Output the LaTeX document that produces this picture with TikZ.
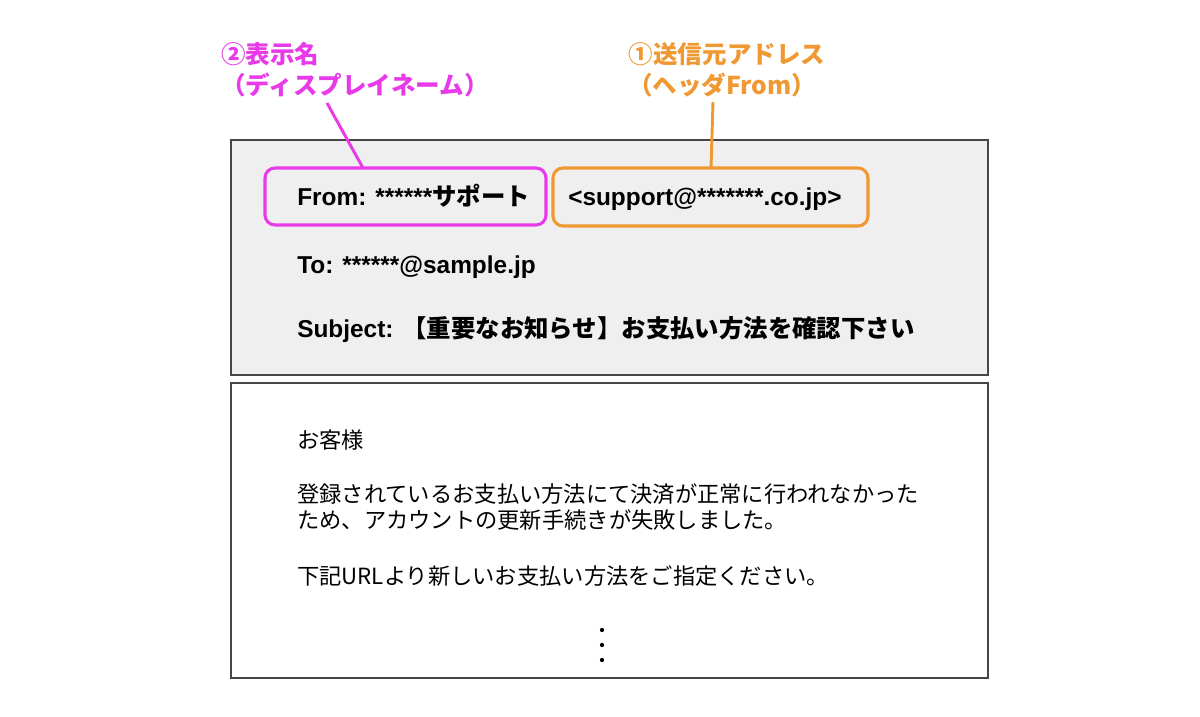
\documentclass[tikz,border=0pt]{standalone}
\usepackage{fontspec}
\setmainfont{Liberation Sans}
\newfontfamily\jp{Noto Sans CJK JP}
\definecolor{mag}{RGB}{232,58,232}
\definecolor{org}{RGB}{240,152,50}
\definecolor{hdr}{RGB}{239,239,239}
\definecolor{bord}{RGB}{70,70,70}
\tikzset{
  panel/.style={draw=bord, line width=1.1pt, inner sep=0pt},
  hl/.style={rounded corners=7.5pt, line width=2.3pt, inner sep=0pt},
  hdtext/.style={anchor=base west, inner sep=0pt, font=\fontsize{18.3}{22}\selectfont\bfseries},
  bodytext/.style={anchor=base west, inner sep=0pt, font=\jp\fontsize{16.7}{20}\selectfont},
  lbl/.style={inner sep=0pt, font=\jp\fontsize{18.4}{22}\selectfont\bfseries},
  leader/.style={line width=2.2pt},
  dotn/.style={circle, fill=black, inner sep=0pt, minimum size=3.2pt}
}
\begin{document}
\begin{tikzpicture}[x=0.75pt,y=-0.75pt]
\useasboundingbox (0,0) rectangle (1200,717);
\fill[white] (0,0) rectangle (1200,717);
% panels
\node[panel, fill=hdr, minimum width=567.75pt, minimum height=176.25pt] (head) at (609.5,257.5) {};
\node[panel, fill=white, minimum width=567.75pt, minimum height=221.25pt] (body) at (609.5,530.5) {};
% highlight boxes
\node[hl, draw=mag, minimum width=210.75pt, minimum height=42.75pt] (magbox) at (405.5,196.5) {};
\node[hl, draw=org, minimum width=236.25pt, minimum height=43.5pt] (orgbox) at (710.5,197) {};
% header texts
\node[hdtext] (from) at (297,205) {From: ******{\jp サポート}};
\node[hdtext] (addr) at (568,205) {<support@*******.co.jp>};
\node[hdtext] (to) at (297,273) {To: ******@sample.jp};
\node[hdtext] (subj) at (297,337) {Subject: {\jp 【重要なお知らせ】お支払い方法を確認下さい}};
% body texts
\node[bodytext] (b1) at (297,448) {お客様};
\node[bodytext] (b2) at (297,502) {登録されているお支払い方法にて決済が正常に行われなかった};
\node[bodytext] (b3) at (297,528) {ため、アカウントの更新手続きが失敗しました。};
\node[bodytext] (b4) at (297,584) {下記URLより新しいお支払い方法をご指定ください。};
\node[dotn] (d1) at (602,630) {};
\node[dotn] (d2) at (602,645) {};
\node[dotn] (d3) at (602,660) {};
% labels
\node[lbl, text=mag, anchor=base west] (m1l) at (221,64) {②表示名};
\node[lbl, text=mag, anchor=base west] (m2l) at (221,94) {（ディスプレイネーム）};
\node[lbl, text=org, anchor=base] (o1l) at (727,64) {①送信元アドレス};
\node[lbl, text=org, anchor=base] (o2l) at (722,94) {（ヘッダFrom）};
% leaders
\coordinate (mA) at (327,103);
\coordinate (mB) at (363,168);
\coordinate (oA) at (713,102);
\coordinate (oB) at (711,168);
\draw[leader, draw=mag] (mA) -- (mB);
\draw[leader, draw=org] (oA) -- (oB);
\end{tikzpicture}
\end{document}
